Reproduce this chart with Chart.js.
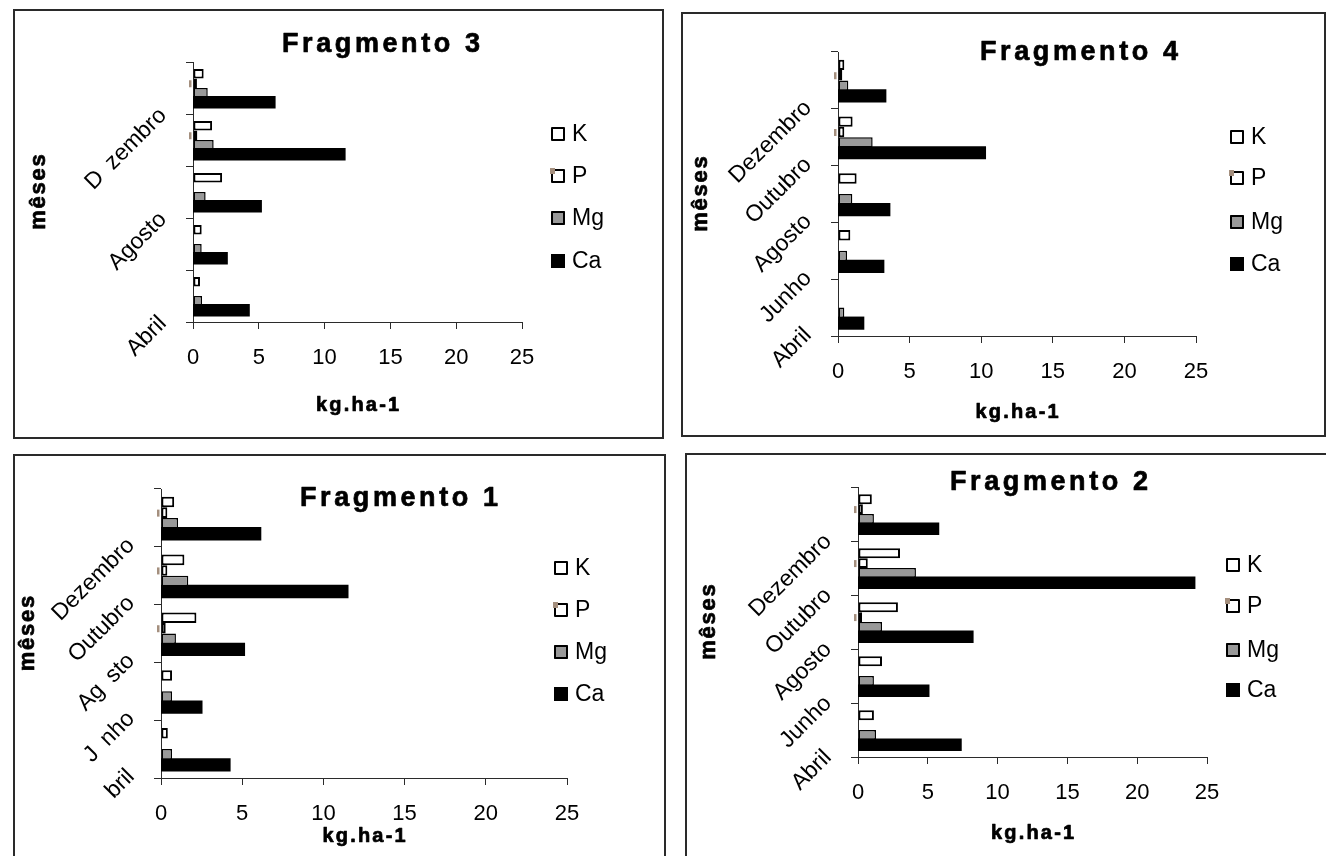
<!DOCTYPE html>
<html>
<head>
<meta charset="utf-8">
<title>Fragmentos – K, P, Mg, Ca (kg.ha-1)</title>
<script src="https://cdn.jsdelivr.net/npm/chart.js@4.4.1/dist/chart.umd.min.js"></script>
<style>
  html, body { margin: 0; padding: 0; background: #ffffff; }
  body { width: 1326px; height: 856px; position: relative; overflow: hidden; }
  canvas { position: absolute; left: 0; top: 0; }
  .frame { position: absolute; border: 2px solid #2a2a2a; box-sizing: border-box; }
</style>
</head>
<body>
<div class="frame" id="frame3"></div>
<div class="frame" id="frame4"></div>
<div class="frame" id="frame1"></div>
<div class="frame" id="frame2"></div>
<canvas id="chart3" width="1326" height="856"></canvas>
<canvas id="chart4" width="1326" height="856"></canvas>
<canvas id="chart1" width="1326" height="856"></canvas>
<canvas id="chart2" width="1326" height="856"></canvas>
<script>
// ---- data -----------------------------------------------------------
const months = ['Abril', 'Junho', 'Agosto', 'Outubro', 'Dezembro'];
const nutrients = ['K', 'P', 'Mg', 'Ca'];
const xTickValues = [0, 5, 10, 15, 20, 25];

// Fragmento 3
const frag3K  = [0.53, 0.66, 2.21, 1.45, 0.81];
const frag3P  = [null, null, null, 0.33, 0.30];
const frag3Mg = [0.69, 0.66, 0.96, 1.57, 1.12];
const frag3Ca = [4.21, 2.54, 5.13, 11.49, 6.17];
const frag3Labels = ['Abril', '', 'Agosto', '', 'D\u2002zembro'];

// Fragmento 4
const frag4K  = [null, 0.86, 1.30, 1.02, 0.44];
const frag4P  = [null, null, null, 0.44, 0.30];
const frag4Mg = [0.44, 0.63, 1.00, 2.42, 0.72];
const frag4Ca = [1.74, 3.14, 3.56, 10.24, 3.28];
const frag4Labels = ['Abril', 'Junho', 'Agosto', 'Outubro', 'Dezembro'];

// Fragmento 1
const frag1K  = [0.42, 0.68, 2.18, 1.44, 0.81];
const frag1P  = [null, null, 0.29, 0.39, 0.39];
const frag1Mg = [0.68, 0.68, 0.92, 1.68, 1.05];
const frag1Ca = [4.20, 2.47, 5.09, 11.46, 6.09];
const frag1Labels = ['bril', 'J\u2002nho', 'Ag\u2002sto', 'Outubro', 'Dezembro'];

// Fragmento 2
const frag2K  = [1.14, 1.72, 2.86, 3.01, 0.99];
const frag2P  = [null, null, 0.29, 0.70, 0.35];
const frag2Mg = [1.29, 1.14, 1.72, 4.15, 1.14];
const frag2Ca = [7.33, 5.02, 8.18, 24.07, 5.72];
const frag2Labels = ['Abril', 'Junho', 'Agosto', 'Outubro', 'Dezembro'];

// ---- styles ---------------------------------------------------------
const FONT = '"Liberation Sans", Arial, Helvetica, sans-serif';
const AXIS_COLOR = '#2b2b2b';
const seriesStyle = {
  K:  { backgroundColor: '#ffffff', borderColor: '#000000', borderWidth: 2 },
  P:  { backgroundColor: '#ffffff', borderColor: '#000000', borderWidth: 2 },
  Mg: { backgroundColor: '#999999', borderColor: '#000000', borderWidth: 1.5 },
  Ca: { backgroundColor: '#000000', borderColor: '#000000', borderWidth: 0, inflateAmount: 1.4 }
};
const P_MARK_COLOR = '#a48f7e';

// page-pixel layout of each panel
const panels = [
  { canvas: 'chart3', frame: 'frame3', title: 'Fragmento 3',
    K: frag3K, P: frag3P, Mg: frag3Mg, Ca: frag3Ca, labels: frag3Labels,
    box:  { x1: 14, y1: 10, x2: 662.5, y2: 437.5 },
    plot: { l: 193, t: 62, r: 522, b: 322 },
    titlePos: { x: 381, y: 45 }, xTitleY: 405, yTitleX: 39,
    legend: { x: 551, ys: [134, 176, 218, 261] } },
  { canvas: 'chart4', frame: 'frame4', title: 'Fragmento 4',
    K: frag4K, P: frag4P, Mg: frag4Mg, Ca: frag4Ca, labels: frag4Labels,
    box:  { x1: 681.5, y1: 13, x2: 1324.5, y2: 435.5 },
    plot: { l: 838, t: 52, r: 1196, b: 336 },
    titlePos: { x: 1079, y: 53 }, xTitleY: 412, yTitleX: 701,
    legend: { x: 1230, ys: [137, 178, 222, 264] } },
  { canvas: 'chart1', frame: 'frame1', title: 'Fragmento 1',
    K: frag1K, P: frag1P, Mg: frag1Mg, Ca: frag1Ca, labels: frag1Labels,
    box:  { x1: 14, y1: 455, x2: 665, y2: 880 },
    plot: { l: 161, t: 489, r: 567, b: 778 },
    titlePos: { x: 399, y: 499 }, xTitleY: 836, yTitleX: 28,
    legend: { x: 554, ys: [568, 610, 652, 694] } },
  { canvas: 'chart2', frame: 'frame2', title: 'Fragmento 2',
    K: frag2K, P: frag2P, Mg: frag2Mg, Ca: frag2Ca, labels: frag2Labels,
    box:  { x1: 685.5, y1: 453.5, x2: 1360, y2: 880 },
    plot: { l: 858, t: 487, r: 1207, b: 757 },
    titlePos: { x: 1049, y: 483 }, xTitleY: 833, yTitleX: 709,
    legend: { x: 1226, ys: [565, 606, 650, 690] } }
];

// offset of a month label's anchor from its category centre on the axis
const LABEL_DX = 30;
const LABEL_DY = 24;

// heavy bold caption with a little tracking
function captionText(ctx, text, x, y, spacing) {
  ctx.letterSpacing = spacing + 'px';
  ctx.lineWidth = 0.7;
  ctx.strokeStyle = '#000000';
  ctx.lineJoin = 'round';
  ctx.fillText(text, x + spacing / 2, y);
  ctx.strokeText(text, x + spacing / 2, y);
  ctx.letterSpacing = '0px';
}

// Draws the panel caption, axis captions, rotated month labels and legend
const panelDecor = {
  id: 'panelDecor',
  afterDraw(chart, args, opts) {
    const { ctx, chartArea } = chart;
    const yScale = chart.scales.y;
    ctx.save();
    ctx.fillStyle = '#000000';

    // rotated month labels, one per category
    ctx.font = `23px ${FONT}`;
    ctx.textAlign = 'right';
    ctx.textBaseline = 'middle';
    opts.labels.forEach((txt, i) => {
      if (!txt) return;
      const y = yScale.getPixelForValue(i);
      ctx.save();
      ctx.translate(chartArea.left - LABEL_DX, y + LABEL_DY);
      ctx.rotate(-Math.PI / 4);
      ctx.fillText(txt, 0, 0);
      ctx.restore();
    });

    // small brownish tag left of the axis on every P bar
    chart.data.datasets.forEach((ds, di) => {
      if (ds.label !== 'P') return;
      chart.getDatasetMeta(di).data.forEach((el, i) => {
        if (ds.data[i] == null) return;
        ctx.fillStyle = P_MARK_COLOR;
        ctx.fillRect(chartArea.left - 4, el.y - 3, 2.5, 7);
      });
    });
    ctx.fillStyle = '#000000';

    // panel caption
    ctx.font = `bold 27px ${FONT}`;
    ctx.textAlign = 'center';
    ctx.textBaseline = 'middle';
    captionText(ctx, opts.title, opts.titlePos.x, opts.titlePos.y, 3.6);

    // value-axis caption
    ctx.font = `bold 20px ${FONT}`;
    captionText(ctx, 'kg.ha-1', (chartArea.left + chartArea.right) / 2, opts.xTitleY, 2.2);

    // category-axis caption
    ctx.save();
    ctx.font = `bold 22px ${FONT}`;
    ctx.translate(opts.yTitleX, (chartArea.top + chartArea.bottom) / 2);
    ctx.rotate(-Math.PI / 2);
    captionText(ctx, 'mêses', 0, 0, 1.8);
    ctx.restore();

    // legend
    ctx.font = `23px ${FONT}`;
    ctx.textAlign = 'left';
    ctx.textBaseline = 'middle';
    chart.data.datasets.forEach((ds, i) => {
      const cy = opts.legend.ys[i];
      const bx = opts.legend.x, by = cy - 7, s = 14;
      ctx.fillStyle = ds.backgroundColor;
      ctx.fillRect(bx, by, s, s);
      ctx.lineWidth = 2;
      ctx.strokeStyle = '#000000';
      ctx.strokeRect(bx + 1, by + 1, s - 2, s - 2);
      if (ds.label === 'P') {
        ctx.fillStyle = P_MARK_COLOR;
        ctx.fillRect(bx - 1, by - 1, 5, 6);
      }
      ctx.fillStyle = '#000000';
      ctx.fillText(ds.label, bx + 21, cy + 1);
    });
    ctx.restore();
  }
};

panels.forEach(p => {
  const fr = document.getElementById(p.frame);
  fr.style.left = (p.box.x1 - 1) + 'px';
  fr.style.top = (p.box.y1 - 1) + 'px';
  fr.style.width = (p.box.x2 - p.box.x1 + 2) + 'px';
  fr.style.height = (p.box.y2 - p.box.y1 + 2) + 'px';

  const W = 1326, H = 856;
  const datasets = nutrients.map(n => Object.assign({
    label: n,
    data: p[n],
    borderSkipped: false,
    categoryPercentage: 0.73,
    barPercentage: 1.0
  }, seriesStyle[n]));

  new Chart(document.getElementById(p.canvas), {
    type: 'bar',
    data: { labels: months, datasets },
    plugins: [panelDecor],
    options: {
      indexAxis: 'y',
      responsive: false,
      animation: false,
      devicePixelRatio: 1,
      layout: { padding: { left: 0, top: p.plot.t, right: W - p.plot.r, bottom: 0 } },
      scales: {
        y: {
          type: 'category',
          reverse: true,
          offset: true,
          grid: { offset: true, drawOnChartArea: false, drawTicks: true, tickLength: 7, color: AXIS_COLOR, lineWidth: 1 },
          border: { color: AXIS_COLOR, width: 1 },
          ticks: { display: false },
          afterFit(s) { s.width = p.plot.l; }
        },
        x: {
          type: 'linear',
          min: 0,
          max: 25,
          afterBuildTicks(s) { s.ticks = xTickValues.map(v => ({ value: v })); },
          grid: { drawOnChartArea: false, drawTicks: true, tickLength: 7, color: AXIS_COLOR, lineWidth: 1 },
          border: { color: AXIS_COLOR, width: 1 },
          ticks: { color: '#000000', font: { family: FONT, size: 22 }, padding: 16, maxRotation: 0, autoSkip: false },
          afterFit(s) { s.height = H - p.plot.b; }
        }
      },
      plugins: {
        legend: { display: false },
        title: { display: false },
        tooltip: { enabled: false },
        panelDecor: {
          title: p.title,
          titlePos: p.titlePos,
          xTitleY: p.xTitleY,
          yTitleX: p.yTitleX,
          legend: p.legend,
          labels: p.labels
        }
      }
    }
  });
});
</script>
</body>
</html>
